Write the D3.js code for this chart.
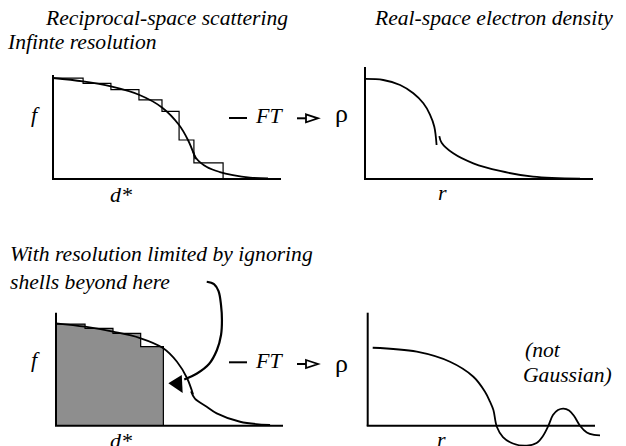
<!DOCTYPE html>
<html>
<head>
<meta charset="utf-8">
<script src="https://cdn.jsdelivr.net/npm/d3@7"></script>
</head>
<body style="margin:0">
<svg id="figure" width="626" height="446"></svg>
<script>
// shells of the scattering factor (d* edges and heights)
const shellEdges = [0, 0.132, 0.254, 0.377, 0.478, 0.553, 0.618, 0.746];
const shellHeights = [0.97, 0.92, 0.86, 0.76, 0.65, 0.375, 0.155];
const truncShellEdges = [0, 0.128, 0.251, 0.373, 0.473];
const truncShellHeights = [0.978, 0.937, 0.888, 0.760];

// f(d*) drawn in two strokes
const fullCurveA = [[0, 0.971], [0.132, 0.938], [0.254, 0.89], [0.377, 0.81], [0.478, 0.688], [0.553, 0.519], [0.592, 0.375], [0.616, 0.25], [0.625, 0.19]];
const fullCurveB = [[0.614, 0.27], [0.628, 0.2], [0.675, 0.115], [0.732, 0.067], [0.789, 0.038], [0.864, 0.014], [0.943, 0.005]];
const truncCurveA = [[0, 0.985], [0.128, 0.952], [0.251, 0.904], [0.37, 0.843], [0.471, 0.747], [0.533, 0.615], [0.577, 0.459], [0.604, 0.30]];
const truncCurveB = [[0.595, 0.33], [0.612, 0.26], [0.664, 0.183], [0.708, 0.119], [0.811, 0.038], [0.943, 0.007]];

// rho(r)
const densityA = [[0, 0.962], [0.080, 0.952], [0.154, 0.904], [0.212, 0.824], [0.256, 0.728], [0.285, 0.620], [0.304, 0.503], [0.314, 0.327]];
const densityB = [[0.326, 0.413], [0.336, 0.349], [0.387, 0.247], [0.475, 0.151], [0.592, 0.077], [0.737, 0.022], [0.943, 0.003]];
const rippleDensity = [[0.022, 0.75], [0.216, 0.712], [0.362, 0.615], [0.465, 0.471], [0.516, 0.327], [0.538, 0.231], [0.553, 0.151],
  [0.568, -0.01], [0.595, -0.109], [0.639, -0.171], [0.7, -0.192], [0.743, -0.166], [0.771, -0.099], [0.795, 0],
  [0.815, 0.103], [0.837, 0.151], [0.861, 0.165], [0.886, 0.146], [0.908, 0.093], [0.934, 0], [0.964, -0.065],
  [0.996, -0.089], [1.022, -0.094]];

// curved pointer "shells beyond here"
const pointerPath = [[0.664, 1.385], [0.696, 1.363], [0.716, 1.295], [0.727, 1.161], [0.731, 1.016], [0.727, 0.872],
  [0.709, 0.728], [0.674, 0.593], [0.621, 0.502], [0.565, 0.445]];
const pointerHead = [[0.495, 0.408], [0.554, 0.488], [0.558, 0.314]];

const headings = ["Reciprocal-space scattering", "Real-space electron density", "Infinte resolution"];
const captions = ["With resolution limited by ignoring", "shells beyond here"];
const noteLines = ["(not", "Gaussian)"];
const rho = "\u03C1";

const svg = d3.select("#figure");

function makePanel(xr, yr, yTop) {
    return {
        x: d3.scaleLinear().domain([0, 1]).range(xr),
        y: d3.scaleLinear().domain([0, yTop]).range(yr),
        yTop: yTop
    };
}

const panels = {
    tl: makePanel([53, 281], [179, 75], 1.0),
    tr: makePanel([365, 593], [179, 67], 1.077),
    bl: makePanel([56, 283], [425.7, 312.7], 1.087),
    br: makePanel([367.7, 595], [425.7, 312.7], 1.087)
};

function drawAxes(p) {
    const g = svg.append("g");
    g.append("line")
        .attr("x1", p.x(0)).attr("x2", p.x(0))
        .attr("y1", p.y(0)).attr("y2", p.y(p.yTop))
        .attr("stroke", "black").attr("stroke-width", 2);
    g.append("line")
        .attr("x1", p.x(0) - 1).attr("x2", p.x(1))
        .attr("y1", p.y(0)).attr("y2", p.y(0))
        .attr("stroke", "black").attr("stroke-width", 2);
}

function drawCurve(p, pts, width) {
    svg.append("path")
        .attr("d", d3.line()
            .x(d => p.x(d[0]))
            .y(d => p.y(d[1]))
            .curve(d3.curveCatmullRom.alpha(0.5))(pts))
        .attr("fill", "none")
        .attr("stroke", "black")
        .attr("stroke-width", width || 1.8);
}

// step outline of shells, returns path points
function shellSteps(edges, heights) {
    const pts = [[edges[0], heights[0]]];
    heights.forEach((h, i) => {
        pts.push([edges[i], h]);
        pts.push([edges[i + 1], h]);
    });
    pts.push([edges[edges.length - 1], 0]);
    return pts;
}

function drawShells(p, edges, heights, fill) {
    const pts = shellSteps(edges, heights);
    const line = d3.line().x(d => p.x(d[0])).y(d => p.y(d[1]));
    if (fill) {
        svg.append("path")
            .attr("d", line([[0, 0]].concat(pts)) + "Z")
            .attr("fill", fill)
            .attr("stroke", "none");
    }
    svg.append("path")
        .attr("d", line(pts))
        .attr("fill", "none")
        .attr("stroke", "black")
        .attr("stroke-width", 1.2);
}

function label(x, y, txt, size, italic) {
    return svg.append("text")
        .attr("x", x).attr("y", y)
        .attr("font-family", "Liberation Serif")
        .attr("font-style", italic === false ? "normal" : "italic")
        .attr("font-size", size)
        .text(txt);
}

// FT arrow between panels
function ftArrow(yLine, yText, yArrow) {
    svg.append("line")
        .attr("x1", 229).attr("x2", 247)
        .attr("y1", yLine).attr("y2", yLine)
        .attr("stroke", "black").attr("stroke-width", 2);
    label(256, yText, "FT", 22);
    svg.append("line")
        .attr("x1", 297).attr("x2", 306)
        .attr("y1", yArrow).attr("y2", yArrow)
        .attr("stroke", "black").attr("stroke-width", 2);
    svg.append("path")
        .attr("d", `M306,${yArrow - 4}L318,${yArrow}L306,${yArrow + 4}Z`)
        .attr("fill", "white")
        .attr("stroke", "black").attr("stroke-width", 1.8)
        .attr("stroke-linejoin", "miter");
}

// top row: infinite resolution
drawShells(panels.tl, shellEdges, shellHeights, null);
drawCurve(panels.tl, fullCurveA);
drawCurve(panels.tl, fullCurveB);
drawAxes(panels.tl);

drawCurve(panels.tr, densityA);
drawCurve(panels.tr, densityB);
drawAxes(panels.tr);

// bottom row: truncated
drawShells(panels.bl, truncShellEdges, truncShellHeights, "#8e8e8e");
drawCurve(panels.bl, truncCurveA);
drawCurve(panels.bl, truncCurveB);
drawAxes(panels.bl);

drawCurve(panels.br, rippleDensity);
drawAxes(panels.br);

// pointer arrow
drawCurve(panels.bl, pointerPath, 2.2);
svg.append("path")
    .attr("d", d3.line().x(d => panels.bl.x(d[0])).y(d => panels.bl.y(d[1]))(pointerHead) + "Z")
    .attr("fill", "black");

// texts
label(46, 25, headings[0], 21.6);
label(375, 25, headings[1], 21.6);
label(8, 49, headings[2], 21.6);
label(10, 261, captions[0], 21.6);
label(10, 289, captions[1], 21.6);
label(525, 357, noteLines[0], 21.6);
label(523, 382, noteLines[1], 21.6);

label(31, 122, "f", 22);
label(31, 367, "f", 22);
label(110, 202, "d*", 22);
label(110, 448, "d*", 22);
label(438, 200, "r", 22);
label(437, 447, "r", 22);
label(335, 122, rho, 26, false);
label(335, 372, rho, 26, false);

ftArrow(118, 123, 118.3);
ftArrow(362.3, 367.7, 364);
</script>
</body>
</html>
